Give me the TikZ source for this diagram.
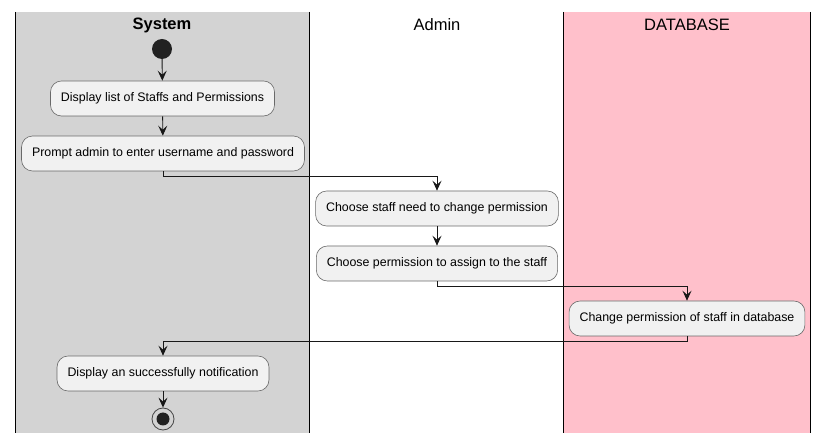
\documentclass[tikz,border=0pt]{standalone}
\usepackage{fontspec}
\setmainfont{Liberation Sans}
\usetikzlibrary{arrows.meta}
\definecolor{lanegray}{HTML}{D3D3D3}
\definecolor{lanepink}{HTML}{FFC0CB}
\definecolor{actfill}{HTML}{F1F1F1}
\definecolor{actline}{HTML}{181818}
\tikzset{
  act/.style={draw=actline!65, line width=0.6pt, fill=actfill, rounded corners=11pt,
    minimum height=35pt, inner xsep=10.5pt, font=\fontsize{12.4}{14}\selectfont, anchor=center},
  lane/.style={line width=1pt, black},
  flow/.style={line width=0.9pt, actline, -{Stealth[length=10pt,width=9pt,inset=4pt]}},
  lanetitle/.style={font=\fontsize{16.5}{19}\selectfont, anchor=center}
}
\begin{document}
\begin{tikzpicture}[x=1pt,y=-1pt]
\useasboundingbox (0,0) rectangle (828,443);
\fill[white] (0,0) rectangle (828,443);
% lanes
\fill[lanegray] (15,12) rectangle (309,433);
\fill[lanepink] (563,12) rectangle (810,433);
\draw[lane] (15,12) -- (15,433);
\draw[lane] (309,12) -- (309,433);
\draw[lane] (563,12) -- (563,433);
\draw[lane] (810,12) -- (810,433);
\node[lanetitle] (tsys) at (162,25) {\bfseries System};
\node[lanetitle] (tadm) at (437,25) {Admin};
\node[lanetitle] (tdb) at (687,25) {DATABASE};
% nodes
\node[circle, fill=black!87, minimum size=20pt, inner sep=0pt] (start) at (162,49) {};
\node[act] (n1) at (162.5,98.5) {Display list of Staffs and Permissions};
\node[act] (n2) at (163,153.5) {Prompt admin to enter username and password};
\node[act] (n3) at (437,208.5) {Choose staff need to change permission};
\node[act] (n4) at (437,263.5) {Choose permission to assign to the staff};
\node[act] (n5) at (687,318.5) {Change permission of staff in database};
\node[act] (n6) at (163,373.5) {Display an successfully notification};
\node[circle, draw=actline!80, line width=0.8pt, minimum size=22pt, inner sep=0pt] (stop) at (163,419) {};
\fill[black!87] (stop.center) circle (6.5pt);
% connectors
\draw[flow] (start) -- (n1);
\draw[flow] (n1) -- (n2);
\draw[flow] (n2.south) -- ++(0,5) -| (n3.north);
\draw[flow] (n3) -- (n4);
\draw[flow] (n4.south) -- ++(0,5) -| (n5.north);
\draw[flow] (n5.south) -- ++(0,5) -| (n6.north);
\draw[flow] (n6) -- (stop);
\end{tikzpicture}
\end{document}
